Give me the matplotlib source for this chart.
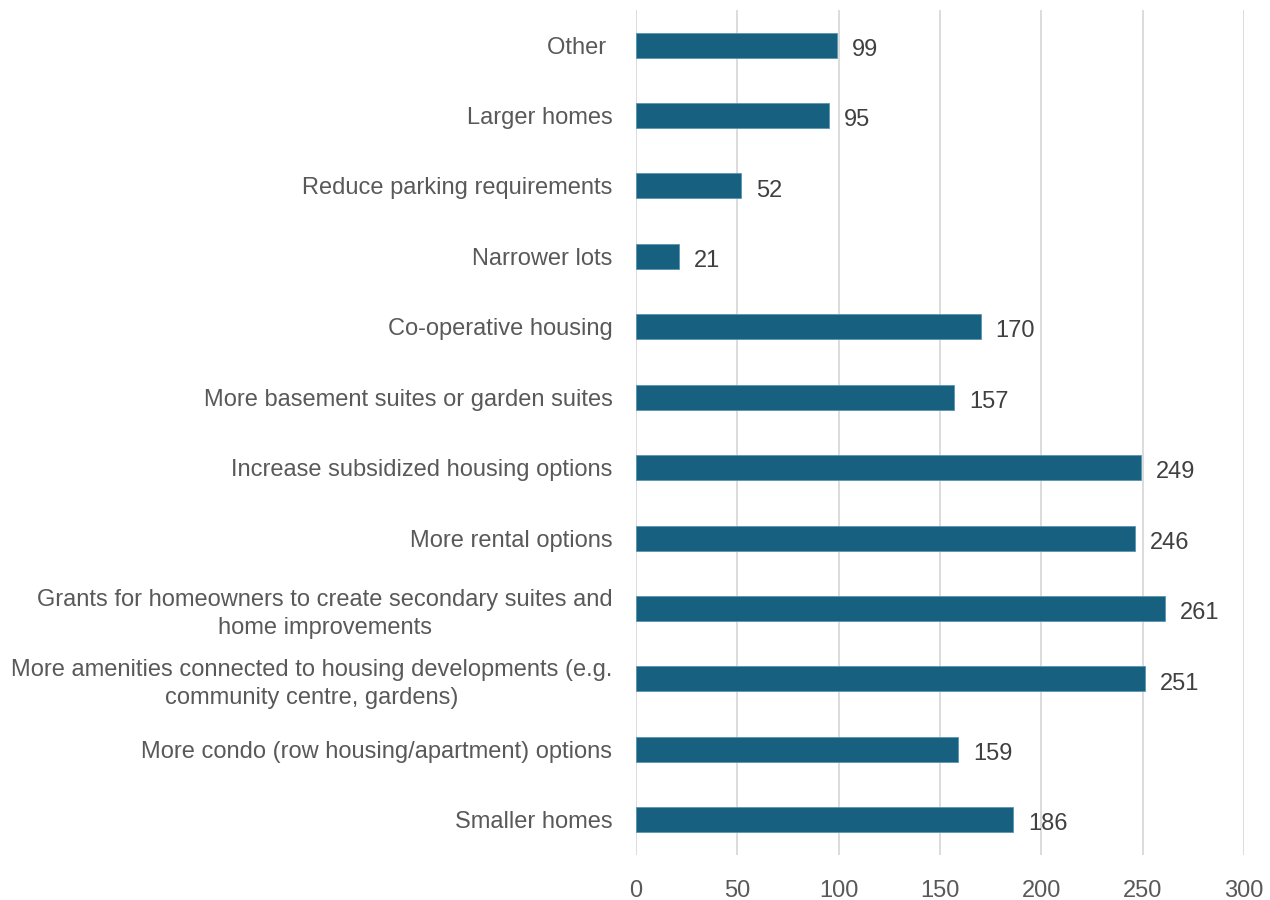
import matplotlib.pyplot as plt

# survey responses, listed bottom to top
options = [
    "Smaller homes",
    "More condo (row housing/apartment) options",
    "More amenities connected to housing developments (e.g.\ncommunity centre, gardens)",
    "Grants for homeowners to create secondary suites and\nhome improvements",
    "More rental options",
    "Increase subsidized housing options",
    "More basement suites or garden suites",
    "Co-operative housing",
    "Narrower lots",
    "Reduce parking requirements",
    "Larger homes",
    "Other ",
]
counts = [186, 159, 251, 261, 246, 249, 157, 170, 21, 52, 95, 99]
xticks = [0, 50, 100, 150, 200, 250, 300]

plt.rcParams['font.family'] = ['Liberation Sans', 'DejaVu Sans']

fig = plt.figure(figsize=(12.7, 9), dpi=100)
ax = fig.add_axes([0.5008, 0.05, 0.4787, 0.939])

pos = list(range(len(options)))
ax.barh(pos, counts, height=0.355, color='#17607f', edgecolor='#5b95b0', linewidth=0.6, zorder=3)

for y, v in zip(pos, counts):
    ax.text(v + 7.5, y - 0.03, str(v), va='center_baseline', ha='left', fontsize=17, color='#404040')

ax.set_xlim(0, 300)
ax.set_ylim(-0.5, len(options) - 0.5)
ax.set_xticks(xticks)
ax.set_yticks(pos)
ax.set_yticklabels(options)
for lab in ax.get_yticklabels():
    lab.set_multialignment('center')
    lab.set_linespacing(1.35)

ax.grid(axis='x', color='#d9d9d9', linewidth=1.3, zorder=0)
ax.tick_params(axis='y', length=0, pad=17, labelsize=17, labelcolor='#595959')
ax.tick_params(axis='x', length=0, pad=18, labelsize=17, labelcolor='#595959')
for s in ax.spines.values():
    s.set_visible(False)

fig.savefig('out.png', dpi=100)
